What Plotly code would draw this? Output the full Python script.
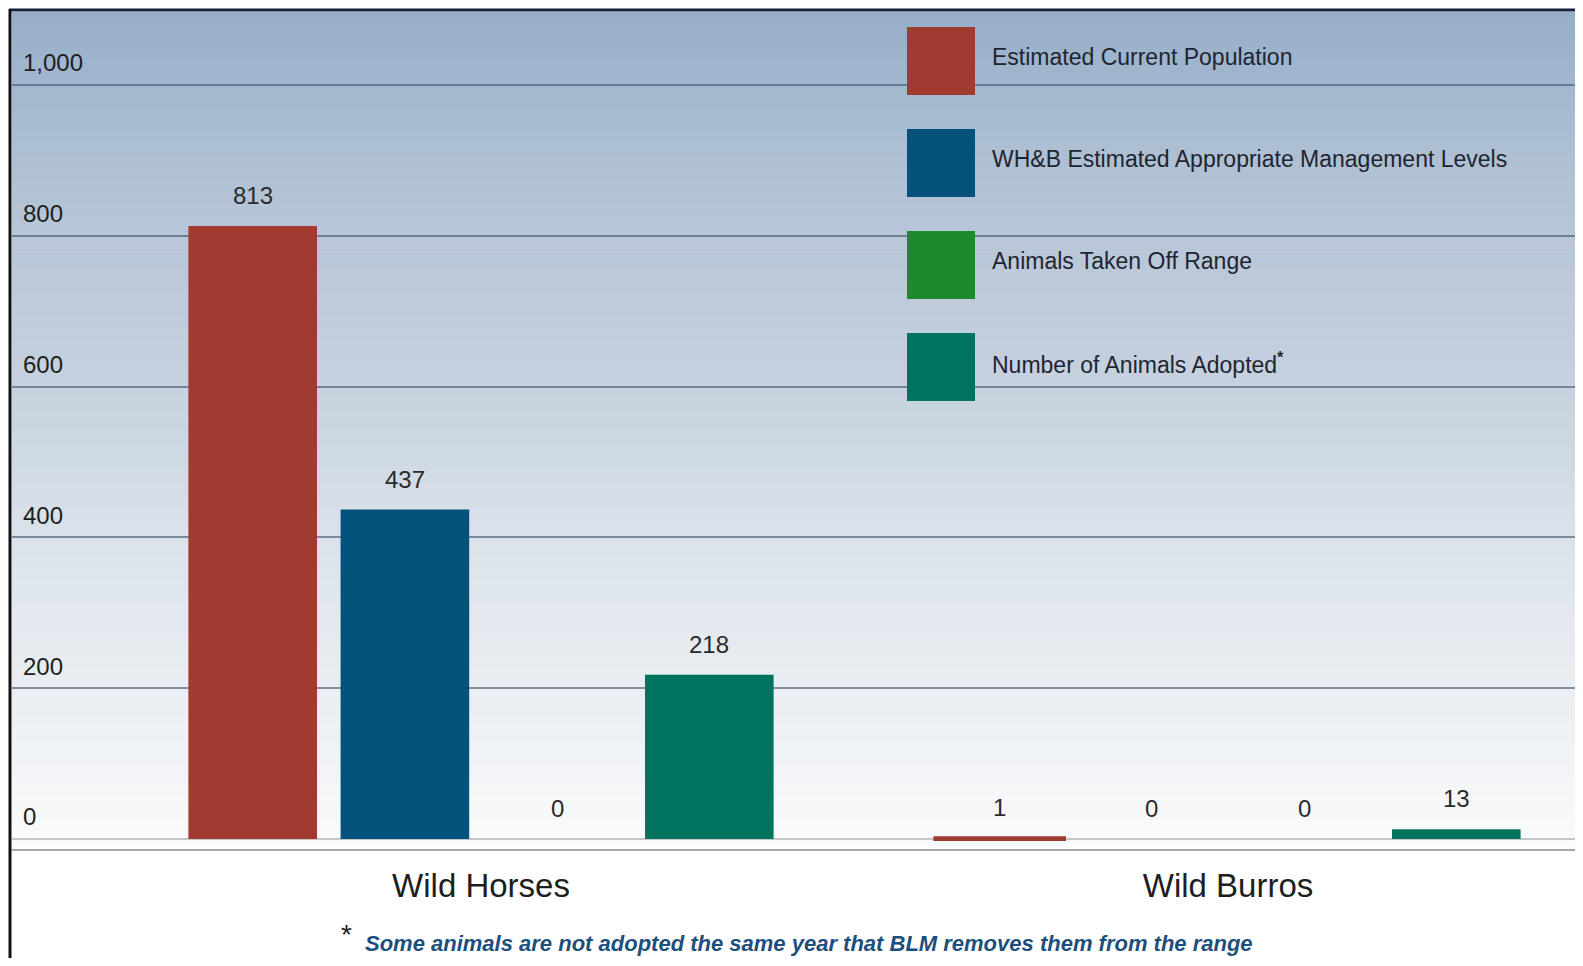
import plotly.graph_objects as go

# ---------------- data ----------------
categories = ["Wild Horses", "Wild Burros"]
series_names = [
    "Estimated Current Population",
    "WH&B Estimated Appropriate Management Levels",
    "Animals Taken Off Range",
    "Number of Animals Adopted<sup><b>*</b></sup>",
]
current_population = [813, 1]
management_levels = [437, 0]
taken_off_range = [0, 0]
adopted = [218, 13]
series_values = [current_population, management_levels, taken_off_range, adopted]
series_colors = ["#a23b2f", "#02527c", "#1b8a2d", "#00735f"]
y_tick_values = [0, 200, 400, 600, 800, 1000]
y_tick_labels = ["0", "200", "400", "600", "800", "1,000"]
footnote = "Some animals are not adopted the same year that BLM removes them from the range"

# ---------------- geometry ----------------
# The page body has an 8px margin; positions below are given in page pixels.
OFF = 8
W, H = 1583 - 2 * OFF, 966 - 2 * OFF
PLOT_LEFT, PLOT_TOP, PLOT_BOTTOM = 12, 12, 849   # page pixels
L = PLOT_LEFT - OFF
T = PLOT_TOP - OFF
B = H - (PLOT_BOTTOM - OFF)
R = 0
PW, PH = W - L - R, H - T - B
FONT = "Liberation Sans, Arial, sans-serif"

def px2x(px):
    return (px - OFF - L) / PW

def py2y(py):
    return (H - B - (py - OFF)) / PH

# y axis: 0 at page pixel 839, 1000 at page pixel 85
zero_px, top_px = 839, 85
per_px = 1000 / (zero_px - top_px)
y_range = [-(PLOT_BOTTOM - zero_px) * per_px, (zero_px - PLOT_TOP) * per_px]

# x axis: group centers at page pixels 481 and 1228
group_px = [481, 1228]
unit = group_px[1] - group_px[0]
x_range = [-(group_px[0] - PLOT_LEFT) / unit, (PLOT_LEFT + PW - group_px[0]) / unit]

fig = go.Figure()
for name, vals, col in zip(series_names, series_values, series_colors):
    fig.add_trace(go.Bar(
        x=categories, y=vals, name=name,
        marker=dict(color=col,
                    line=dict(color=col, width=[4 if 0 < v < 5 else 0 for v in vals])),
        showlegend=False,
    ))

# value labels above bars
bargap, bargroupgap = 0.185, 0.155
slot_px = unit * (1 - bargap) / len(series_names)
annotations = []
for i, vals in enumerate(series_values):
    for cat, v in zip(categories, vals):
        annotations.append(dict(
            x=cat, y=v, xref="x", yref="y",
            xshift=(i - (len(series_names) - 1) / 2) * slot_px,
            yshift=15, yanchor="bottom", xanchor="center",
            text=f"{v:,}", showarrow=False,
            font=dict(family=FONT, size=24, color="#2a2a2a"),
        ))

# custom legend with large swatches
shapes = []
sw_left, sw_size, first_top, row_step = 907, 68, 27, 102
for i, (name, col) in enumerate(zip(series_names, series_colors)):
    top = first_top + i * row_step
    shapes.append(dict(
        type="rect", xref="paper", yref="paper",
        x0=px2x(sw_left), x1=px2x(sw_left + sw_size),
        y0=py2y(top + sw_size), y1=py2y(top),
        fillcolor=col, line=dict(width=0), layer="above",
    ))
    annotations.append(dict(
        x=px2x(990), y=py2y(top + sw_size / 2 - 4), xref="paper", yref="paper",
        xanchor="left", yanchor="middle", text=name, showarrow=False,
        font=dict(family=FONT, size=23, color="#1e2530"),
    ))

# gradient background bands (page pixel stops)
stops = [(12, (150, 174, 201)), (150, (174, 191, 211)), (400, (200, 211, 224)),
         (550, (220, 227, 235)), (700, (235, 239, 243)), (849, (250, 251, 252))]
n_bands = 140
for k in range(n_bands):
    y0p = PLOT_TOP + k * PH / n_bands
    y1p = PLOT_TOP + (k + 1) * PH / n_bands
    mid = (y0p + y1p) / 2
    for (a, ca), (b, cb) in zip(stops[:-1], stops[1:]):
        if a <= mid <= b:
            t = (mid - a) / (b - a)
            c = tuple(round(ca[j] + (cb[j] - ca[j]) * t) for j in range(3))
            break
    shapes.append(dict(
        type="rect", xref="paper", yref="paper",
        x0=0, x1=1, y0=py2y(y1p + 0.6), y1=py2y(y0p),
        fillcolor=f"rgb{c}", line=dict(width=0), layer="below",
    ))

# frame lines
shapes.append(dict(type="line", xref="paper", yref="paper",
                   x0=px2x(9), x1=px2x(1600), y0=py2y(10), y1=py2y(10),
                   line=dict(color="#15233a", width=3), layer="above"))
shapes.append(dict(type="line", xref="paper", yref="paper",
                   x0=px2x(10), x1=px2x(10), y0=py2y(9), y1=py2y(1000),
                   line=dict(color="#111111", width=3), layer="above"))

# footnote
annotations.append(dict(
    x=px2x(339), y=py2y(934), xref="paper", yref="paper",
    xanchor="left", yanchor="middle", text="*", showarrow=False,
    font=dict(family=FONT, size=28, color="#222222"),
))
annotations.append(dict(
    x=px2x(363), y=py2y(943), xref="paper", yref="paper",
    xanchor="left", yanchor="middle", text=f"<b><i>{footnote}</i></b>", showarrow=False,
    font=dict(family=FONT, size=22, color="#1d4f7d"),
))

fig.update_layout(
    width=W, height=H,
    margin=dict(l=L, r=R, t=T, b=B, pad=0),
    paper_bgcolor="white", plot_bgcolor="rgba(0,0,0,0)",
    barmode="group", bargap=bargap, bargroupgap=bargroupgap,
    shapes=shapes, annotations=annotations,
    font=dict(family=FONT, color="#222222"),
    showlegend=False,
)
fig.update_xaxes(
    type="category", range=x_range, showgrid=False,
    showline=True, linecolor="#a8a8a8", linewidth=2, mirror=False,
    ticks="", tickfont=dict(family=FONT, size=33, color="#1e1e1e"),
    ticklabelstandoff=6,
    fixedrange=True,
)
fig.update_yaxes(
    range=y_range, tickvals=y_tick_values, ticktext=y_tick_labels,
    showgrid=True, gridcolor="rgba(60,82,110,0.6)", gridwidth=2,
    zeroline=True, zerolinecolor="#c4c6c8", zerolinewidth=2,
    ticklabelposition="inside", ticklabelstandoff=8, ticklabelshift=-22,
    tickfont=dict(family=FONT, size=24, color="#1e1e1e"),
    showline=False, fixedrange=True,
)

fig.write_html("out.html")
